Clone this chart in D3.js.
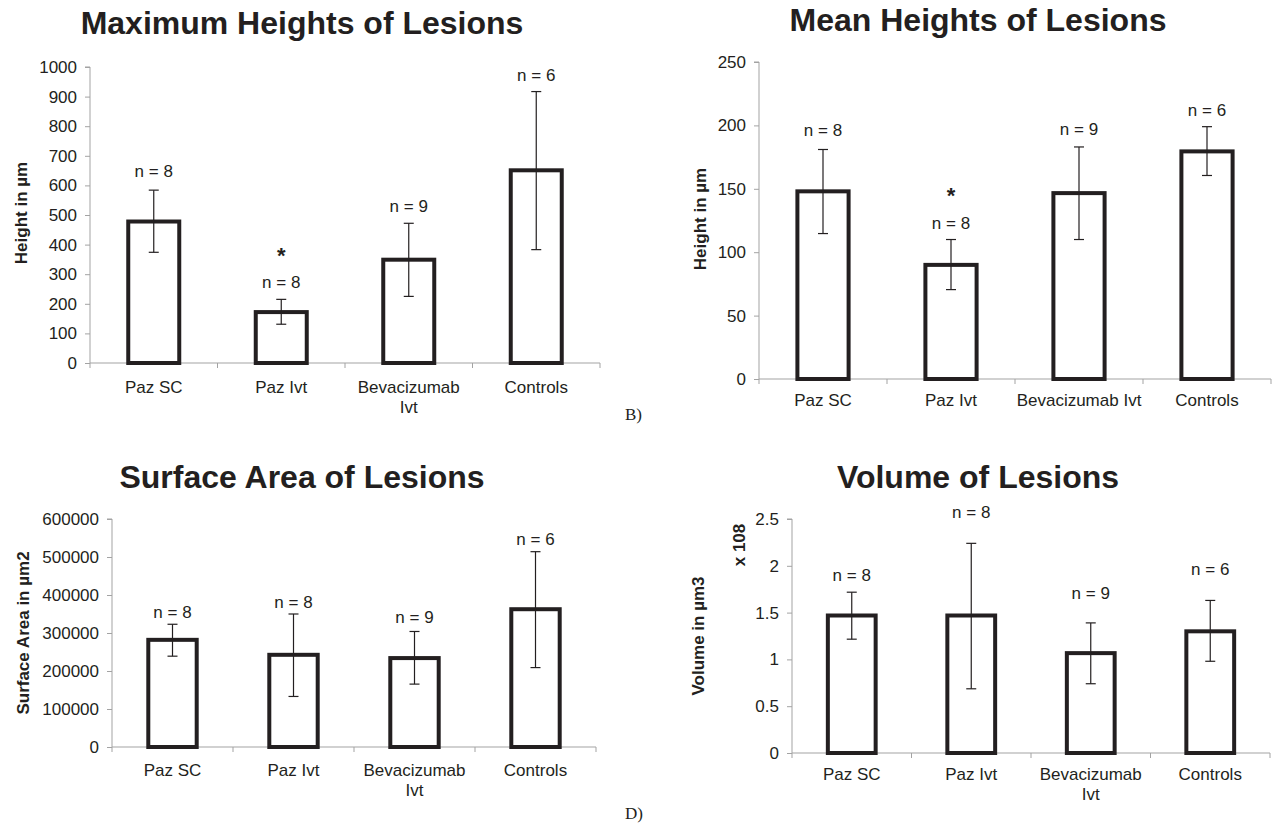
<!DOCTYPE html>
<html>
<head>
<meta charset="utf-8">
<script src="https://cdn.jsdelivr.net/npm/d3@7"></script>
<style>
  body { margin: 0; background: #fff; }
  svg { display: block; font-family: "Liberation Sans", Arial, sans-serif; }
  .tick text { fill: #231f20; }
</style>
</head>
<body>
<svg id="chart" width="1272" height="824"></svg>
<script>
// groups on the x axis
const categories = ['Paz SC', 'Paz Ivt', 'Bevacizumab Ivt', 'Controls'];
const groupSizes = ['n = 8', 'n = 8', 'n = 9', 'n = 6'];

// A) maximum heights (µm)
const maxHeights = [478, 172, 349, 651];
const maxHeightsLow = [374, 131, 225, 383];
const maxHeightsHigh = [584, 215, 472, 917];
const maxHeightsLabelAt = [649, 273, 531, 972];

// B) mean heights (µm)
const meanHeights = [148, 90, 146.6, 179.5];
const meanHeightsLow = [114.7, 70.5, 110, 160.5];
const meanHeightsHigh = [181, 110, 183, 199];
const meanHeightsLabelAt = [196, 123, 197, 212];

// C) surface area (µm2)
const surfaceArea = [282000, 242600, 234000, 362600];
const surfaceAreaLow = [239000, 133000, 165500, 209000];
const surfaceAreaHigh = [323000, 350000, 304000, 514000];
const surfaceAreaLabelAt = [356000, 381000, 340700, 547000];

// D) volume (x 10^8 µm3)
const volume = [1.469, 1.469, 1.067, 1.30];
const volumeLow = [1.216, 0.686, 0.74, 0.98];
const volumeHigh = [1.718, 2.24, 1.39, 1.63];
const volumeLabelAt = [1.896, 2.57, 1.71, 1.96];

// significance marker (Paz Ivt in both height panels)
const starAtMax = [null, 382, null, null];
const starAtMean = [null, 149, null, null];

const svg = d3.select('#chart');
const ink = '#231f20';
const axisGrey = '#a3a3a3';

function drawPanel(p) {
    const g = svg.append('g');

    const x = d3.scaleBand().domain(categories).range([p.left, p.right]).padding(0);
    const y = d3.scaleLinear().domain(p.domain).range([p.bottom, p.top]);

    // title
    g.append('text')
        .attr('x', p.titleX)
        .attr('y', p.titleY)
        .attr('text-anchor', 'middle')
        .attr('font-size', 32)
        .attr('font-weight', 'bold')
        .attr('fill', ink)
        .text(p.title);

    // y axis
    const yAxis = d3.axisLeft(y)
        .tickValues(d3.range(p.domain[0], p.domain[1] + p.step / 2, p.step))
        .tickSize(5)
        .tickPadding(8)
        .tickFormat(d3.format(p.fmt));
    const yg = g.append('g')
        .attr('transform', `translate(${p.left},0)`)
        .call(yAxis);
    yg.select('.domain').attr('stroke', axisGrey).attr('d', `M-5,${p.top}H0V${p.bottom}`);
    yg.selectAll('.tick line').attr('stroke', axisGrey);
    yg.selectAll('.tick text').attr('font-size', 17).attr('font-family', null);

    // x axis with boundary ticks
    const xg = g.append('g')
        .attr('transform', `translate(0,${p.bottom})`);
    xg.append('path')
        .attr('d', `M${p.left},0H${p.right}`)
        .attr('stroke', axisGrey)
        .attr('fill', 'none');
    const edges = categories.map(c => x(c)).concat([p.right]);
    xg.selectAll('line.edge').data(edges).enter().append('line')
        .attr('class', 'edge')
        .attr('x1', d => d).attr('x2', d => d)
        .attr('y1', 0).attr('y2', 5)
        .attr('stroke', axisGrey);

    const xAxis = d3.axisBottom(x).tickSize(0).tickPadding(0);
    const xAxisGroup = g.append('g')
        .attr('transform', `translate(0,${p.bottom})`)
        .call(xAxis);
    xAxisGroup.select('.domain').remove();
    xAxisGroup.selectAll('.tick text')
        .attr('font-size', 17)
        .attr('font-family', null)
        .attr('dy', null)
        .attr('y', p.labelDy)
        .each(function(d) {
            const t = d3.select(this);
            const lines = p.wrap && d === 'Bevacizumab Ivt' ? ['Bevacizumab', 'Ivt'] : [d];
            t.text(null);
            lines.forEach((line, i) => {
                t.append('tspan')
                    .attr('x', 0)
                    .attr('y', p.labelDy + i * 20)
                    .text(line);
            });
        });

    // y axis title
    g.append('text')
        .attr('transform', `translate(${p.yLabelX},${p.yLabelY}) rotate(-90)`)
        .attr('text-anchor', 'middle')
        .attr('dominant-baseline', 'central')
        .attr('font-size', 17)
        .attr('font-weight', 'bold')
        .attr('fill', ink)
        .text(p.yLabel);

    if (p.multiplier) {
        g.append('text')
            .attr('transform', `translate(${p.multX},${p.multY}) rotate(-90)`)
            .attr('text-anchor', 'middle')
            .attr('dominant-baseline', 'central')
            .attr('font-size', 17)
            .attr('font-weight', 'bold')
            .attr('fill', ink)
            .text(p.multiplier);
    }

    const bw = x.bandwidth();
    const barW = bw * 0.4;
    const cx = c => x(c) + bw / 2;

    // bars
    g.selectAll('rect.bar').data(categories).enter().append('rect')
        .attr('class', 'bar')
        .attr('x', c => cx(c) - barW / 2)
        .attr('width', barW)
        .attr('y', (c, i) => y(p.values[i]))
        .attr('height', (c, i) => y(0) - y(p.values[i]))
        .attr('fill', '#fff')
        .attr('stroke', ink)
        .attr('stroke-width', 4);

    // error bars
    const err = g.append('g')
        .attr('stroke', ink)
        .attr('stroke-width', 1.2)
        .attr('fill', 'none');
    categories.forEach((c, i) => {
        const xc = cx(c);
        err.append('line')
            .attr('x1', xc).attr('x2', xc)
            .attr('y1', y(p.low[i])).attr('y2', y(p.high[i]));
        [p.low[i], p.high[i]].forEach(v => {
            err.append('line')
                .attr('x1', xc - 5).attr('x2', xc + 5)
                .attr('y1', y(v)).attr('y2', y(v));
        });
    });

    // n labels
    g.selectAll('text.n').data(categories).enter().append('text')
        .attr('class', 'n')
        .attr('x', c => cx(c))
        .attr('y', (c, i) => y(p.labelAt[i]))
        .attr('dy', '0.35em')
        .attr('text-anchor', 'middle')
        .attr('font-size', 17)
        .attr('fill', ink)
        .text((c, i) => groupSizes[i]);

    if (p.stars) {
        categories.forEach((c, i) => {
            if (p.stars[i] == null) return;
            g.append('text')
                .attr('x', cx(c))
                .attr('y', y(p.stars[i]))
                .attr('dy', '0.6em')
                .attr('text-anchor', 'middle')
                .attr('font-size', 22)
                .attr('font-weight', 'bold')
                .attr('fill', ink)
                .text('*');
        });
    }
}

drawPanel({
    title: 'Maximum Heights of Lesions', titleX: 302, titleY: 34,
    left: 90, right: 600, top: 67, bottom: 363,
    domain: [0, 1000], step: 100, fmt: 'd',
    values: maxHeights, low: maxHeightsLow, high: maxHeightsHigh,
    labelAt: maxHeightsLabelAt, stars: starAtMax,
    yLabel: 'Height in µm', yLabelX: 21, yLabelY: 213,
    labelDy: 30, wrap: true
});

drawPanel({
    title: 'Mean Heights of Lesions', titleX: 978, titleY: 31,
    left: 759, right: 1271, top: 62, bottom: 379,
    domain: [0, 250], step: 50, fmt: 'd',
    values: meanHeights, low: meanHeightsLow, high: meanHeightsHigh,
    labelAt: meanHeightsLabelAt, stars: starAtMean,
    yLabel: 'Height in µm', yLabelX: 700, yLabelY: 219,
    labelDy: 27, wrap: false
});

drawPanel({
    title: 'Surface Area of Lesions', titleX: 302, titleY: 488,
    left: 112, right: 596, top: 519, bottom: 747,
    domain: [0, 600000], step: 100000, fmt: 'd',
    values: surfaceArea, low: surfaceAreaLow, high: surfaceAreaHigh,
    labelAt: surfaceAreaLabelAt,
    yLabel: 'Surface Area in µm2', yLabelX: 23, yLabelY: 633,
    labelDy: 29, wrap: true
});

drawPanel({
    title: 'Volume of Lesions', titleX: 978, titleY: 488,
    left: 792, right: 1270, top: 519, bottom: 753,
    domain: [0, 2.5], step: 0.5, fmt: '~g',
    values: volume, low: volumeLow, high: volumeHigh,
    labelAt: volumeLabelAt,
    yLabel: 'Volume in µm3', yLabelX: 698, yLabelY: 636,
    multiplier: 'x 108', multX: 739, multY: 545,
    labelDy: 27, wrap: true
});

// panel letters
svg.append('text').attr('x', 625).attr('y', 420)
    .attr('font-family', '"Liberation Serif", "Times New Roman", serif')
    .attr('font-size', 17).attr('fill', ink).text('B)');
svg.append('text').attr('x', 625).attr('y', 819)
    .attr('font-family', '"Liberation Serif", "Times New Roman", serif')
    .attr('font-size', 17).attr('fill', ink).text('D)');
</script>
</body>
</html>
